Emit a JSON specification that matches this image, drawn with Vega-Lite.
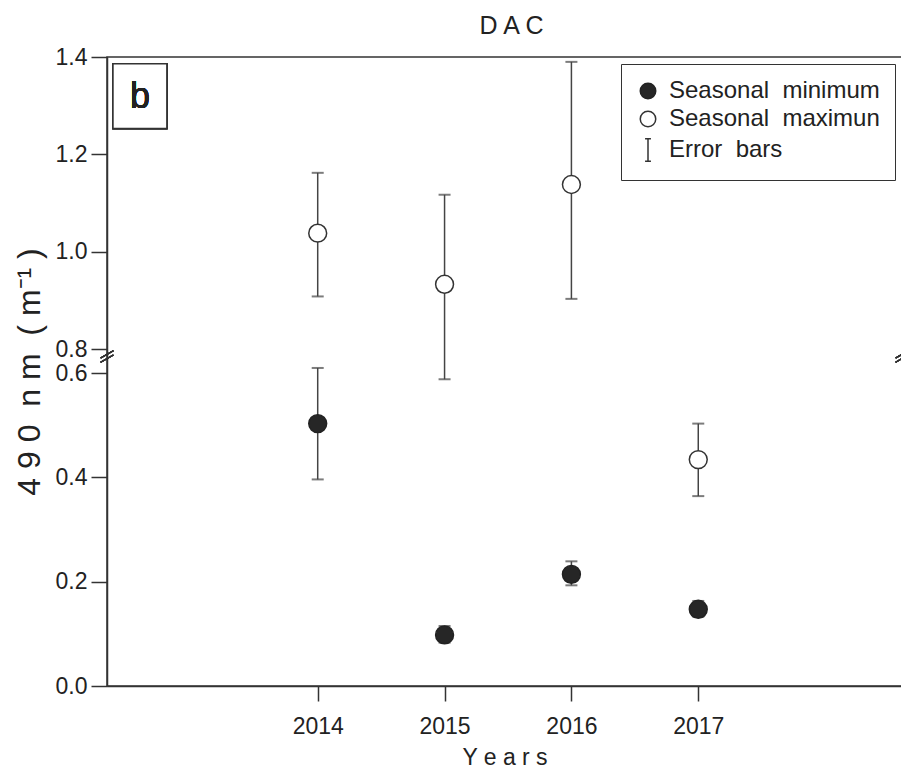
{
  "$schema": "https://vega.github.io/schema/vega-lite/v6.json",
  "width": 795,
  "height": 629,
  "autosize": {"type": "none"},
  "padding": {"left": 107, "top": 57, "right": 0, "bottom": 86},
  "background": "white",
  "config": {
    "font": "Liberation Sans",
    "view": {"stroke": "#333", "strokeWidth": 1.5}
  },
  "title": {"text": "D A C", "fontSize": 25, "fontWeight": "normal", "color": "#222", "offset": 7, "dx": 7, "font": "Liberation Sans"},
  "data": {
    "values": [
      {"year": 2014, "series": "Seasonal\u00a0 minimum", "value": 0.503, "lo": 0.396, "hi": 0.642},
      {"year": 2015, "series": "Seasonal\u00a0 minimum", "value": 0.098, "lo": 0.083, "hi": 0.115},
      {"year": 2016, "series": "Seasonal\u00a0 minimum", "value": 0.214, "lo": 0.193, "hi": 0.239},
      {"year": 2017, "series": "Seasonal\u00a0 minimum", "value": 0.147, "lo": 0.133, "hi": 0.163},
      {"year": 2014, "series": "Seasonal\u00a0 maximun", "value": 1.038, "lo": 0.908, "hi": 1.162},
      {"year": 2015, "series": "Seasonal\u00a0 maximun", "value": 0.933, "lo": 0.588, "hi": 1.117},
      {"year": 2016, "series": "Seasonal\u00a0 maximun", "value": 1.138, "lo": 0.903, "hi": 1.39},
      {"year": 2017, "series": "Seasonal\u00a0 maximun", "value": 0.434, "lo": 0.364, "hi": 0.503}
    ]
  },
  "layer": [
    {
      "mark": {"type": "rule", "color": "#444", "strokeWidth": 1.5},
      "encoding": {
        "x": {
          "field": "year", "type": "quantitative",
          "scale": {"domain": [2012.339, 2018.606], "nice": false, "zero": false},
          "axis": {"values": [2014, 2015, 2016, 2017], "format": "d", "grid": false,
                   "labelFontSize": 23, "labelColor": "#222", "labelPadding": 14,
                   "tickColor": "#333", "tickWidth": 1.5, "tickSize": 15,
                   "domainColor": "#333", "domainWidth": 1.5,
                   "title": "Y e a r s", "titleFontSize": 23, "titleFontWeight": "normal", "titleColor": "#222", "titlePadding": 8}
        },
        "y": {
          "field": "lo", "type": "quantitative",
          "scale": {"domain": [0, 0.6, 0.8, 1.4], "range": [629, 316, 292, 0], "nice": false, "zero": false},
          "axis": {"values": [0, 0.2, 0.4, 0.6, 0.8, 1.0, 1.2, 1.4], "format": ".1f", "grid": false,
                   "labelFontSize": 23, "labelColor": "#222", "labelPadding": 4,
                   "tickColor": "#333", "tickWidth": 1.5, "tickSize": 16,
                   "domainColor": "#333", "domainWidth": 1.5,
                   "title": "4 9 0\u00a0 n m\u00a0 ( m\u207b\u00b9 )", "titleFontSize": 32, "titleFontWeight": "normal", "titleColor": "#222", "titlePadding": 9}
        },
        "y2": {"field": "hi"}
      }
    },
    {
      "mark": {"type": "tick", "orient": "horizontal", "color": "#444", "size": 12, "thickness": 2},
      "encoding": {
        "x": {"field": "year", "type": "quantitative"},
        "y": {"field": "lo", "type": "quantitative"}
      }
    },
    {
      "mark": {"type": "tick", "orient": "horizontal", "color": "#444", "size": 12, "thickness": 2},
      "encoding": {
        "x": {"field": "year", "type": "quantitative"},
        "y": {"field": "hi", "type": "quantitative"}
      }
    },
    {
      "mark": {"type": "point", "filled": true, "strokeWidth": 1.5, "size": 320, "opacity": 1},
      "encoding": {
        "x": {"field": "year", "type": "quantitative"},
        "y": {"field": "value", "type": "quantitative"},
        "fill": {
          "field": "series", "type": "nominal",
          "scale": {"domain": ["Seasonal\u00a0 minimum", "Seasonal\u00a0 maximun", "Error\u00a0 bars"], "range": ["#262626", "#ffffff", "transparent"]},
          "legend": {
            "title": null, "orient": "top-right", "offset": 7,
            "labelFontSize": 24, "labelColor": "#222", "labelOffset": 9, "labelLimit": 400,
            "symbolSize": 240, "symbolStrokeWidth": 1.5,
            "strokeColor": "#333", "fillColor": "white", "padding": 15, "rowPadding": 4
          }
        },
        "stroke": {
          "field": "series", "type": "nominal",
          "scale": {"domain": ["Seasonal\u00a0 minimum", "Seasonal\u00a0 maximun", "Error\u00a0 bars"], "range": ["#222222", "#333333", "#333333"]},
          "legend": {
            "title": null, "orient": "top-right", "offset": 7,
            "labelFontSize": 24, "labelColor": "#222", "labelOffset": 9, "labelLimit": 400,
            "symbolSize": 240, "symbolStrokeWidth": 1.5,
            "strokeColor": "#333", "fillColor": "white", "padding": 15, "rowPadding": 4
          }
        },
        "shape": {
          "field": "series", "type": "nominal",
          "scale": {"domain": ["Seasonal\u00a0 minimum", "Seasonal\u00a0 maximun", "Error\u00a0 bars"], "range": ["circle", "circle", "M0,-1.45V1.45M-0.38,-1.45H0.38M-0.38,1.45H0.38"]},
          "legend": {
            "title": null, "orient": "top-right", "offset": 7,
            "labelFontSize": 24, "labelColor": "#222", "labelOffset": 9, "labelLimit": 400,
            "symbolSize": 240, "symbolStrokeWidth": 1.5,
            "strokeColor": "#333", "fillColor": "white", "padding": 15, "rowPadding": 4
          }
        }
      }
    },
    {
      "mark": {"type": "rect", "fill": "white", "stroke": "#333", "strokeWidth": 1.5},
      "encoding": {
        "x": {"datum": 2012.386, "type": "quantitative"},
        "x2": {"datum": 2012.811},
        "y": {"datum": 1.386, "type": "quantitative"},
        "y2": {"datum": 1.253}
      }
    },
    {
      "mark": {"type": "text", "text": "b", "fontSize": 36, "fontWeight": "normal", "color": "#222", "align": "center", "baseline": "middle"},
      "encoding": {
        "x": {"datum": 2012.6, "type": "quantitative"},
        "y": {"datum": 1.318, "type": "quantitative"}
      }
    },
    {
      "mark": {"type": "rule", "color": "#333", "strokeWidth": 1.2},
      "encoding": {
        "x": {"datum": 2012.289, "type": "quantitative"}, "x2": {"datum": 2012.389},
        "y": {"datum": 0.69, "type": "quantitative"}, "y2": {"datum": 0.75}
      }
    },
    {
      "mark": {"type": "rule", "color": "#333", "strokeWidth": 1.2},
      "encoding": {
        "x": {"datum": 2012.289, "type": "quantitative"}, "x2": {"datum": 2012.389},
        "y": {"datum": 0.725, "type": "quantitative"}, "y2": {"datum": 0.785}
      }
    },
    {
      "mark": {"type": "rule", "color": "#333", "strokeWidth": 1.2},
      "encoding": {
        "x": {"datum": 2018.556, "type": "quantitative"}, "x2": {"datum": 2018.656},
        "y": {"datum": 0.69, "type": "quantitative"}, "y2": {"datum": 0.75}
      }
    },
    {
      "mark": {"type": "rule", "color": "#333", "strokeWidth": 1.2},
      "encoding": {
        "x": {"datum": 2018.556, "type": "quantitative"}, "x2": {"datum": 2018.656},
        "y": {"datum": 0.725, "type": "quantitative"}, "y2": {"datum": 0.785}
      }
    }
  ]
}
